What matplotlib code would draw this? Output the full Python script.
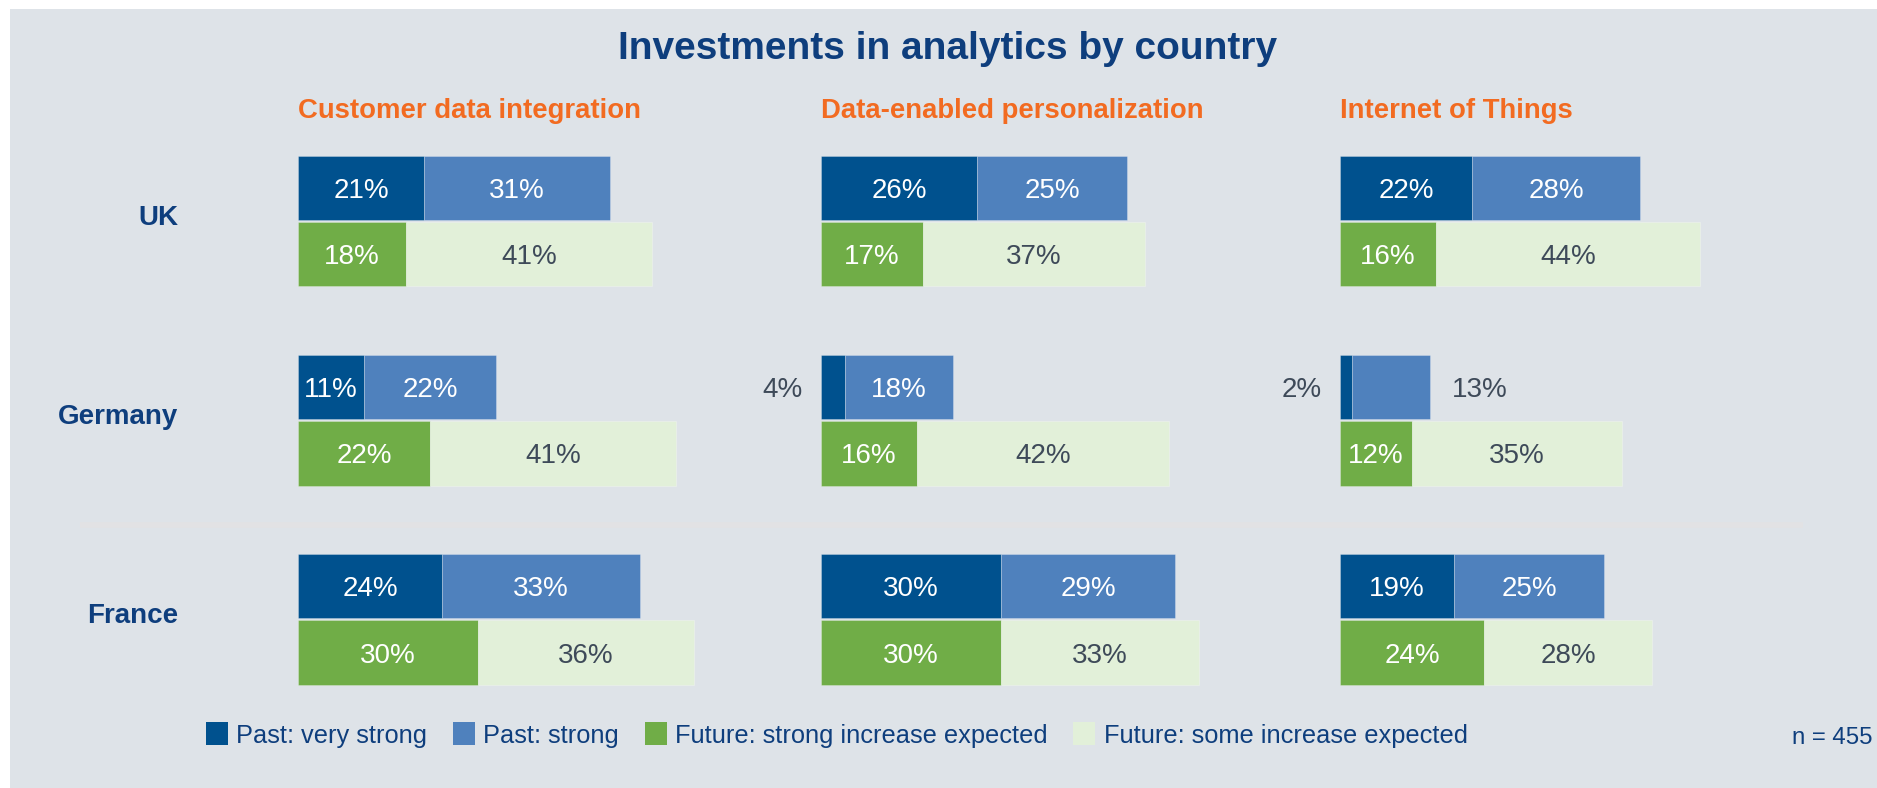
import matplotlib
matplotlib.use("Agg")
import matplotlib.pyplot as plt
from matplotlib.patches import Patch, Rectangle
from matplotlib.lines import Line2D

plt.rcParams["font.family"] = ["Liberation Sans", "DejaVu Sans"]

# Survey data (percent of respondents), rows = countries, cols = topics
countries = ["UK", "Germany", "France"]
topics = ["Customer data integration", "Data-enabled personalization", "Internet of Things"]
series = ["Past: very strong", "Past: strong",
          "Future: strong increase expected", "Future: some increase expected"]

past_very_strong = [[21, 26, 22], [11, 4, 2], [24, 30, 19]]
past_strong = [[31, 25, 28], [22, 18, 13], [33, 29, 25]]
future_strong = [[18, 17, 16], [22, 16, 12], [30, 30, 24]]
future_some = [[41, 37, 44], [41, 42, 35], [36, 33, 28]]
sample_note = "n = 455"

# Colours
BG = "#DEE3E8"
NAVY = "#0E3E7D"
ORANGE = "#F26B21"
DARK_TEXT = "#3E4A59"
colors = ["#00518E", "#4F81BD", "#70AD47", "#E2F0D9"]
label_colors = ["white", "white", "white", DARK_TEXT]

W, H = 1877, 788
fig = plt.figure(figsize=(W / 100, H / 100), dpi=100)
fig.patch.set_facecolor("white")


def fx(x):
    return x / W


def fy(y):
    return 1 - y / H


# grey panel behind everything
fig.add_artist(Rectangle((fx(10), 0), 1 - fx(10), fy(9), transform=fig.transFigure,
                         facecolor=BG, edgecolor="none", zorder=-10))

fig.text(fx(948), fy(59), "Investments in analytics by country", ha="center", va="baseline",
         fontsize=28, fontweight="bold", color=NAVY)

panel_left = [298, 821, 1340]
bar_h = 0.97
edge = (1, 1, 1, 0.3)
label_size = 20

for j, topic in enumerate(topics):
    ax = fig.add_axes([fx(panel_left[j]), fy(685.7), 450 / W, 531 / H])
    ax.set_xlim(0, 75)
    ax.set_ylim(7, -1)
    ax.axis("off")
    ax.patch.set_alpha(0)

    fig.text(fx(panel_left[j]), fy(118), topic, ha="left", va="baseline",
             fontsize=19.85, fontweight="bold", color=ORANGE)

    for i, country in enumerate(countries):
        rows = [
            (i * 3 - 0.5, [past_very_strong[i][j], past_strong[i][j]], [0, 1]),
            (i * 3 + 0.5, [future_strong[i][j], future_some[i][j]], [2, 3]),
        ]
        for y, vals, idx in rows:
            left = 0
            for v, k in zip(vals, idx):
                ax.barh(y, v, left=left, height=bar_h, color=colors[k],
                        edgecolor=edge, linewidth=0.6)
                txt = f"{v}%"
                if v < 5:
                    # too thin for the label: put it left of the bar
                    ax.annotate(txt, xy=(left, y), xytext=(-18, 0), textcoords="offset pixels",
                                ha="right", va="center_baseline", fontsize=label_size,
                                color=DARK_TEXT)
                elif j == 2 and i == 1 and k == 1:
                    ax.annotate(txt, xy=(left + v, y), xytext=(22, 0), textcoords="offset pixels",
                                ha="left", va="center_baseline", fontsize=label_size,
                                color=DARK_TEXT)
                else:
                    ax.text(left + v / 2, y, txt, ha="center", va="center_baseline",
                            fontsize=label_size, color=label_colors[k])
                left += v

        if j == 0:
            ax.annotate(country, xy=(0, i * 3), xytext=(-120, 6), textcoords="offset pixels",
                        ha="right", va="center_baseline", fontsize=20, fontweight="bold",
                        color=NAVY)

# separator between Germany and France
fig.add_artist(Line2D([fx(80), fx(1803)], [fy(525), fy(525)], transform=fig.transFigure,
                      lw=4, color="#E2E2E4", solid_capstyle="butt"))

handles = [Patch(facecolor=c, edgecolor="none") for c in colors]
fig.legend(handles, series, loc="center left", bbox_to_anchor=(fx(206), fy(735)), ncol=4,
           frameon=False, fontsize=18.3, labelcolor=NAVY, handlelength=0.88, handleheight=1.0,
           handletextpad=0.32, columnspacing=1.0, borderpad=0, borderaxespad=0)

fig.text(fx(1872), fy(735), sample_note, ha="right", va="center_baseline",
         fontsize=17.3, color=NAVY)

fig.savefig("out.png", dpi=100, facecolor=fig.get_facecolor())
